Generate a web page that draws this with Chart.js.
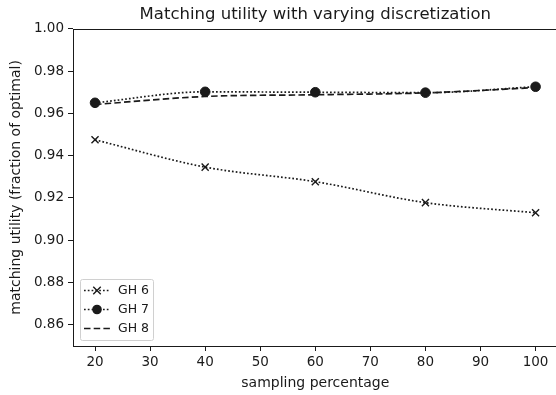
<!DOCTYPE html>
<html>
<head>
<meta charset="utf-8">
<script src="https://cdn.jsdelivr.net/npm/chart.js@4"></script>
<style>
  html, body { margin: 0; padding: 0; background: #fff; overflow: hidden; }
  #wrap { width: 556px; height: 395px; overflow: hidden; }
</style>
</head>
<body>
<div id="wrap"><canvas id="chart" width="564" height="395"></canvas></div>
<script>
// Dữ liệu
const samplingPct = [20, 40, 60, 80, 100];
const gh6 = [0.9475, 0.9346, 0.9277, 0.9178, 0.9130];
const gh7 = [0.9650, 0.9702, 0.9700, 0.9698, 0.9726];
const gh8 = [0.9642, 0.9680, 0.9688, 0.9697, 0.9722];
const seriesLabels = ['GH 6', 'GH 7', 'GH 8'];
const xTicks = [20, 30, 40, 50, 60, 70, 80, 90, 100];
const yTicks = [0.86, 0.88, 0.90, 0.92, 0.94, 0.96, 0.98, 1.00];

const INK = '#1a1a1a';
const FONT = "'DejaVu Sans', sans-serif";

function toPoints(values) {
    return samplingPct.map((x, i) => ({ x: x, y: values[i] }));
}

// Khung trục (4 cạnh) như matplotlib
const framePlugin = {
    id: 'frame',
    afterDatasetsDraw(chart) {
        const { ctx, chartArea: a } = chart;
        ctx.save();
        ctx.strokeStyle = INK;
        ctx.lineWidth = 1;
        ctx.strokeRect(Math.round(a.left) + 0.5, Math.round(a.top) + 0.5,
            Math.round(a.right - a.left), Math.round(a.bottom - a.top));
        ctx.restore();
    }
};

// Chú thích bên trong vùng vẽ, góc dưới trái
const innerLegend = {
    id: 'innerLegend',
    afterDraw(chart) {
        const { ctx, chartArea: a } = chart;
        const boxX = a.left + 7, boxW = 73, boxH = 61;
        const boxY = a.bottom - 6 - boxH;
        ctx.save();
        ctx.fillStyle = 'rgba(255,255,255,0.8)';
        ctx.strokeStyle = '#d0d0d0';
        ctx.lineWidth = 1;
        ctx.beginPath();
        ctx.roundRect(boxX + 0.5, boxY + 0.5, boxW, boxH, 2);
        ctx.fill();
        ctx.stroke();

        chart.data.datasets.forEach((ds, i) => {
            const y = boxY + 11.5 + i * 19;
            const x0 = boxX + 4, x1 = boxX + 30;
            const cx = (x0 + x1) / 2;
            ctx.strokeStyle = ds.borderColor;
            ctx.lineWidth = ds.borderWidth;
            ctx.setLineDash(ds.borderDash || []);
            ctx.beginPath();
            ctx.moveTo(x0, y);
            ctx.lineTo(x1, y);
            ctx.stroke();
            ctx.setLineDash([]);
            if (ds.pointRadius > 0) {
                ctx.fillStyle = ds.pointBackgroundColor;
                ctx.strokeStyle = ds.pointBorderColor;
                ctx.lineWidth = ds.pointBorderWidth;
                ctx.beginPath();
                if (ds.pointStyle === 'circle') {
                    ctx.arc(cx, y, ds.pointRadius, 0, Math.PI * 2);
                    ctx.fill();
                } else {
                    const r = ds.pointRadius * 0.75;
                    ctx.moveTo(cx - r, y - r); ctx.lineTo(cx + r, y + r);
                    ctx.moveTo(cx + r, y - r); ctx.lineTo(cx - r, y + r);
                    ctx.stroke();
                }
            }
            ctx.fillStyle = INK;
            ctx.font = '12.5px ' + FONT;
            ctx.textBaseline = 'middle';
            ctx.textAlign = 'left';
            ctx.fillText(ds.label, boxX + 38, y + 0.5);
        });
        ctx.restore();
    }
};

const commonLine = {
    borderColor: INK,
    backgroundColor: INK,
    borderWidth: 1.7,
    fill: false,
    cubicInterpolationMode: 'monotone',
    pointBorderColor: INK,
    pointBackgroundColor: INK
};

const chart = new Chart(document.getElementById('chart'), {
    type: 'line',
    data: {
        datasets: [
            Object.assign({}, commonLine, {
                label: seriesLabels[0],
                data: toPoints(gh6),
                borderDash: [1.7, 2.1],
                pointStyle: 'crossRot',
                pointRadius: 5,
                pointBorderWidth: 1.4
            }),
            Object.assign({}, commonLine, {
                label: seriesLabels[1],
                data: toPoints(gh7),
                borderDash: [1.7, 2.1],
                pointStyle: 'circle',
                pointRadius: 4.8,
                pointBorderWidth: 1
            }),
            Object.assign({}, commonLine, {
                label: seriesLabels[2],
                data: toPoints(gh8),
                borderDash: [6.5, 3.2],
                pointStyle: 'circle',
                pointRadius: 0,
                pointBorderWidth: 0
            })
        ]
    },
    options: {
        responsive: false,
        maintainAspectRatio: false,
        animation: false,
        devicePixelRatio: 1,
        layout: { padding: { left: 0, right: 4, top: 0, bottom: 0 } },
        scales: {
            x: {
                type: 'linear',
                min: 16,
                max: 104,
                afterBuildTicks: s => { s.ticks = xTicks.map(v => ({ value: v })); },
                afterFit: s => { s.height = 49; },
                border: { display: false },
                grid: { drawOnChartArea: false, drawTicks: true, tickLength: 5, color: INK, lineWidth: 1 },
                ticks: {
                    color: INK, padding: 3, maxRotation: 0,
                    font: { family: FONT, size: 13.5 },
                    callback: v => String(v)
                },
                title: {
                    display: true, text: 'sampling percentage', color: INK,
                    font: { family: FONT, size: 14 },
                    padding: { top: 0, bottom: 3 }
                }
            },
            y: {
                min: 0.85,
                max: 1.00,
                afterBuildTicks: s => { s.ticks = yTicks.map(v => ({ value: v })); },
                afterFit: s => { s.width = 73; },
                border: { display: false },
                grid: { drawOnChartArea: false, drawTicks: true, tickLength: 5, color: INK, lineWidth: 1 },
                ticks: {
                    color: INK, padding: 4,
                    font: { family: FONT, size: 13.5 },
                    callback: v => Number(v).toFixed(2)
                },
                title: {
                    display: true, text: 'matching utility (fraction of optimal)', color: INK,
                    font: { family: FONT, size: 14 },
                    padding: { top: 8, bottom: 0 }
                }
            }
        },
        plugins: {
            legend: { display: false },
            tooltip: { enabled: false },
            title: {
                display: true,
                fullSize: false,
                text: 'Matching utility with varying discretization',
                color: INK,
                font: { family: FONT, size: 16.5, weight: 'normal' },
                padding: { top: 5, bottom: 4 }
            }
        }
    },
    plugins: [framePlugin, innerLegend]
});
</script>
</body>
</html>
